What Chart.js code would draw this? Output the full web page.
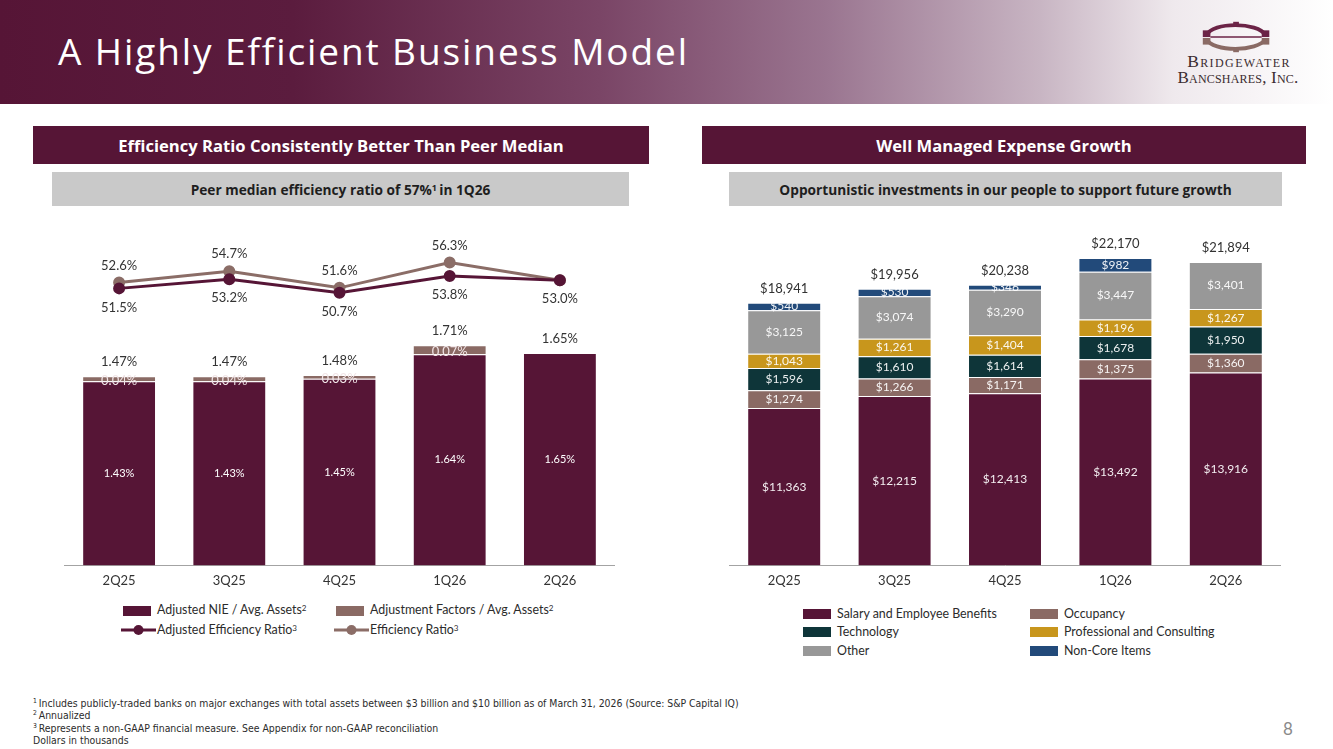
<!DOCTYPE html>
<html>
<head>
<meta charset="utf-8">
<script src="https://cdn.jsdelivr.net/npm/chart.js@4.4.1/dist/chart.umd.min.js"></script>
<style>
html, body { margin: 0; padding: 0; background: #fff; }
body { width: 1333px; height: 749px; position: relative; overflow: hidden; font-family: Lato, "Open Sans", sans-serif; color: #333; }
.hdr { position: absolute; left: 0; top: 0; width: 1333px; height: 104px;
  background: linear-gradient(to right, #561536 0%, #5b1c3e 22%, #7a4566 45%, #9a7590 62%, #c8b5c3 78%, #efe9ed 88%, #ffffff 100%); }
.title { position: absolute; left: 58px; top: 25px; font-family: "Open Sans", sans-serif; font-weight: 400; font-size: 37px; letter-spacing: 1.9px; color: #fff; white-space: nowrap; }
.logo-txt { position: absolute; width: 140px; text-align: center; font-family: "Liberation Serif", "DejaVu Serif", serif; font-variant: small-caps; color: #3b2c30; white-space: nowrap; }
.band { position: absolute; height: 38px; background: #561536; color: #fff; font-family: "Open Sans", sans-serif; font-weight: 700; font-size: 16.6px;
  display: flex; align-items: center; justify-content: center; }
.sub { position: absolute; height: 34px; background: #c9c9c9; color: #1e1e1e; font-family: "Open Sans", sans-serif; font-weight: 700; font-size: 13.7px;
  display: flex; align-items: center; justify-content: center; }
.sub sup, .leg sup, .foot sup { font-size: 65%; vertical-align: top; position: relative; top: -2px; }
canvas { position: absolute; }
.leg { position: absolute; font-size: 12.4px; color: #2b2b2b; white-space: nowrap; line-height: 14px; }
.sw { position: absolute; width: 28px; height: 10px; }
.foot { position: absolute; left: 33px; top: 697px; font-family: "Liberation Sans Narrow", "DejaVu Sans Condensed", sans-serif; font-size: 10.4px; line-height: 12.4px; color: #2b2b2b; }
.pg { position: absolute; left: 1283px; top: 718px; font-size: 17px; color: #8a8a8a; }
</style>
</head>
<body>
<div class="hdr"></div>
<div class="title">A Highly Efficient Business Model</div>

<svg style="position:absolute;left:1197px;top:18px" width="80" height="38" viewBox="0 0 80 40">
  <path d="M8 18 C 14 4, 62 4, 70 18" fill="none" stroke="#6b2346" stroke-width="4"/>
  <path d="M8 22 C 14 36, 62 36, 70 22" fill="none" stroke="#8a6a64" stroke-width="4"/>
  <line x1="12" y1="20" x2="66" y2="20" stroke="#6b2346" stroke-width="1.5"/>
  <rect x="4" y="13" width="8" height="7" fill="#6b2346"/>
  <rect x="66" y="13" width="8" height="7" fill="#6b2346"/>
  <rect x="4" y="21" width="8" height="7" fill="#8a6a64"/>
  <rect x="66" y="21" width="8" height="7" fill="#8a6a64"/>
  <rect x="36" y="4" width="6" height="5" fill="#6b2346"/>
  <rect x="36" y="31" width="6" height="5" fill="#8a6a64"/>
</svg>
<div class="logo-txt" style="left:1169px;top:51px;font-size:17.5px;letter-spacing:1.4px;">Bridgewater</div>
<div class="logo-txt" style="left:1168px;top:68px;font-size:17px;letter-spacing:0.2px;">Bancshares, Inc.</div>

<div class="band" style="left:33px;top:126px;width:616px;">Efficiency Ratio Consistently Better Than Peer Median</div>
<div class="sub" style="left:52px;top:172px;width:577px;">Peer median efficiency ratio of 57%<sup>1</sup>&thinsp;in 1Q26</div>
<div class="band" style="left:702px;top:126px;width:604px;">Well Managed Expense Growth</div>
<div class="sub" style="left:729px;top:172px;width:553px;">Opportunistic investments in our people to support future growth</div>

<canvas id="effChart" width="551" height="392" style="left:64px;top:205px;"></canvas>
<canvas id="expChart" width="552" height="392" style="left:729px;top:205px;"></canvas>

<!-- left legend -->
<div class="sw" style="left:123px;top:606px;background:#561536"></div>
<div class="leg" style="left:157px;top:603px;">Adjusted NIE / Avg. Assets<sup>2</sup></div>
<div class="sw" style="left:336px;top:606px;background:#8a6a64"></div>
<div class="leg" style="left:370px;top:603px;">Adjustment Factors / Avg. Assets<sup>2</sup></div>
<svg style="position:absolute;left:121px;top:624px" width="36" height="12"><line x1="0" y1="6" x2="35" y2="6" stroke="#561536" stroke-width="3"/><circle cx="17.5" cy="6" r="5" fill="#561536"/></svg>
<div class="leg" style="left:157px;top:623px;">Adjusted Efficiency Ratio<sup>3</sup></div>
<svg style="position:absolute;left:334px;top:624px" width="36" height="12"><line x1="0" y1="6" x2="35" y2="6" stroke="#8b6d67" stroke-width="3"/><circle cx="17.5" cy="6" r="5" fill="#8b6d67"/></svg>
<div class="leg" style="left:370px;top:623px;">Efficiency Ratio<sup>3</sup></div>

<!-- right legend -->
<div class="sw" style="left:803px;top:609px;background:#561536"></div>
<div class="leg" style="left:837px;top:607px;">Salary and Employee Benefits</div>
<div class="sw" style="left:1030px;top:609px;background:#8a6a64"></div>
<div class="leg" style="left:1064px;top:607px;">Occupancy</div>
<div class="sw" style="left:803px;top:627px;background:#0e3539"></div>
<div class="leg" style="left:837px;top:625px;">Technology</div>
<div class="sw" style="left:1030px;top:627px;background:#c8961c"></div>
<div class="leg" style="left:1064px;top:625px;">Professional and Consulting</div>
<div class="sw" style="left:803px;top:646px;background:#989898"></div>
<div class="leg" style="left:837px;top:644px;">Other</div>
<div class="sw" style="left:1030px;top:646px;background:#224a7a"></div>
<div class="leg" style="left:1064px;top:644px;">Non-Core Items</div>

<div class="foot">
<sup>1</sup>&thinsp;Includes publicly-traded banks on major exchanges with total assets between $3 billion and $10 billion as of March 31, 2026 (Source: S&amp;P Capital IQ)<br>
<sup>2</sup>&thinsp;Annualized<br>
<sup>3</sup>&thinsp;Represents a non-GAAP financial measure. See Appendix for non-GAAP reconciliation<br>
Dollars in thousands
</div>
<div class="pg">8</div>

<script>
// --- DATA ---
const quarters = ['2Q25', '3Q25', '4Q25', '1Q26', '2Q26'];

// left chart (percent)
const adjNie = [1.43, 1.43, 1.45, 1.64, 1.65];
const adjFactors = [0.04, 0.04, 0.03, 0.07, 0];
const nieTotals = [1.47, 1.47, 1.48, 1.71, 1.65];
const adjEffRatio = [51.5, 53.2, 50.7, 53.8, 53.0];
const effRatio = [52.6, 54.7, 51.6, 56.3, 53.0];

// right chart (dollars in thousands)
const salary = [11363, 12215, 12413, 13492, 13916];
const occupancy = [1274, 1266, 1171, 1375, 1360];
const technology = [1596, 1610, 1614, 1678, 1950];
const professional = [1043, 1261, 1404, 1196, 1267];
const other = [3125, 3074, 3290, 3447, 3401];
const nonCore = [540, 530, 346, 982, 0];
const expTotals = [18941, 19956, 20238, 22170, 21894];

// --- COLORS ---
const MAROON = '#561536';
const TAUPE = '#8a6a64';
const LINE_TAUPE = '#8b6d67';
const TEAL = '#0e3539';
const GOLD = '#c8961c';
const GREY = '#989898';
const BLUE = '#224a7a';
const SEG_BORDER = 'rgba(255,255,255,0.55)';
const FONT = 'Lato, "Open Sans", sans-serif';

const pct2 = v => v.toFixed(2) + '%';
const pct1 = v => v.toFixed(1) + '%';
const usd = v => '$' + v.toLocaleString('en-US');

// --- HELPER: draws value labels + stack totals ---
function makeLabelPlugin(totals, totalFmt) {
    return {
        id: 'valueLabels',
        afterDatasetsDraw(chart) {
            const ctx = chart.ctx;
            ctx.save();
            ctx.textAlign = 'center';
            ctx.textBaseline = 'middle';
            chart.data.datasets.forEach((ds, i) => {
                const lab = ds.lab;
                if (!lab) return;
                const meta = chart.getDatasetMeta(i);
                meta.data.forEach((el, j) => {
                    const v = ds.data[j];
                    if (!v || (lab.skip && lab.skip.includes(j))) return;
                    let y;
                    if (meta.type === 'bar') y = (el.y + el.base) / 2 + (lab.dy || 0);
                    else y = el.y + lab.dy;
                    ctx.font = lab.font;
                    ctx.fillStyle = lab.color;
                    ctx.fillText(lab.fmt(v), el.x, y);
                });
            });
            // totals above the top segment
            const barMetas = chart.getSortedVisibleDatasetMetas().filter(m => m.type === 'bar');
            ctx.font = '13px ' + FONT;
            ctx.fillStyle = '#333';
            totals.forEach((t, j) => {
                let top = Infinity, x = 0;
                barMetas.forEach(m => {
                    const el = m.data[j];
                    if (el && el.y < top) { top = el.y; x = el.x; }
                });
                ctx.fillText(totalFmt(t), x, top - 14);
            });
            ctx.restore();
        }
    };
}

const xAxis = {
    stacked: true,
    grid: { display: false, drawTicks: false },
    border: { display: true, color: '#a3a3a3', width: 1 },
    ticks: { color: '#333', font: { family: FONT, size: 13 }, padding: 8 }
};

// --- LEFT: EFFICIENCY RATIO ---
new Chart(document.getElementById('effChart'), {
    data: {
        labels: quarters,
        datasets: [
            { type: 'line', label: 'Adjusted Efficiency Ratio', data: adjEffRatio, yAxisID: 'y1', order: 0,
              borderColor: MAROON, backgroundColor: MAROON, borderWidth: 3, pointRadius: 4.5, pointHoverRadius: 4.5,
              lab: { fmt: pct1, dy: 19, color: '#333', font: '13px ' + FONT } },
            { type: 'line', label: 'Efficiency Ratio', data: effRatio, yAxisID: 'y1', order: 1,
              borderColor: LINE_TAUPE, backgroundColor: LINE_TAUPE, borderWidth: 3, pointRadius: 4.5, pointHoverRadius: 4.5,
              lab: { fmt: pct1, dy: -17, color: '#333', font: '13px ' + FONT, skip: [4] } },
            { type: 'bar', label: 'Adjusted NIE / Avg. Assets', data: adjNie, order: 2,
              backgroundColor: MAROON, borderColor: SEG_BORDER, borderWidth: 1,
              lab: { fmt: pct2, color: '#fff', font: '11px ' + FONT } },
            { type: 'bar', label: 'Adjustment Factors / Avg. Assets', data: adjFactors, order: 3,
              backgroundColor: TAUPE, borderColor: SEG_BORDER, borderWidth: 1,
              lab: { fmt: pct2, dy: 2, color: '#f2e6e8', font: '13px ' + FONT } }
        ]
    },
    options: {
        responsive: false,
        animation: false,
        barPercentage: 0.67,
        categoryPercentage: 1.0,
        layout: { padding: 0, autoPadding: false },
        plugins: { legend: { display: false }, tooltip: { enabled: false } },
        scales: {
            x: xAxis,
            y: { stacked: true, display: false, min: 0, max: 2.8 },
            y1: { display: false, min: 0, max: 67 }
        }
    },
    plugins: [makeLabelPlugin(nieTotals, pct2)]
});

// --- RIGHT: EXPENSE GROWTH ---
const segLab = { fmt: usd, color: 'rgba(255,255,255,0.92)', font: '12px ' + FONT };
function seg(label, data, color) {
    return { type: 'bar', label: label, data: data, backgroundColor: color, borderColor: SEG_BORDER, borderWidth: 1, lab: segLab };
}

new Chart(document.getElementById('expChart'), {
    data: {
        labels: quarters,
        datasets: [
            seg('Salary and Employee Benefits', salary, MAROON),
            seg('Occupancy', occupancy, TAUPE),
            seg('Technology', technology, TEAL),
            seg('Professional and Consulting', professional, GOLD),
            seg('Other', other, GREY),
            seg('Non-Core Items', nonCore, BLUE)
        ]
    },
    options: {
        responsive: false,
        animation: false,
        barPercentage: 0.67,
        categoryPercentage: 1.0,
        layout: { padding: 0, autoPadding: false },
        plugins: { legend: { display: false }, tooltip: { enabled: false } },
        scales: {
            x: xAxis,
            y: { stacked: true, display: false, min: 0, max: 26000 }
        }
    },
    plugins: [makeLabelPlugin(expTotals, usd)]
});
</script>
</body>
</html>
